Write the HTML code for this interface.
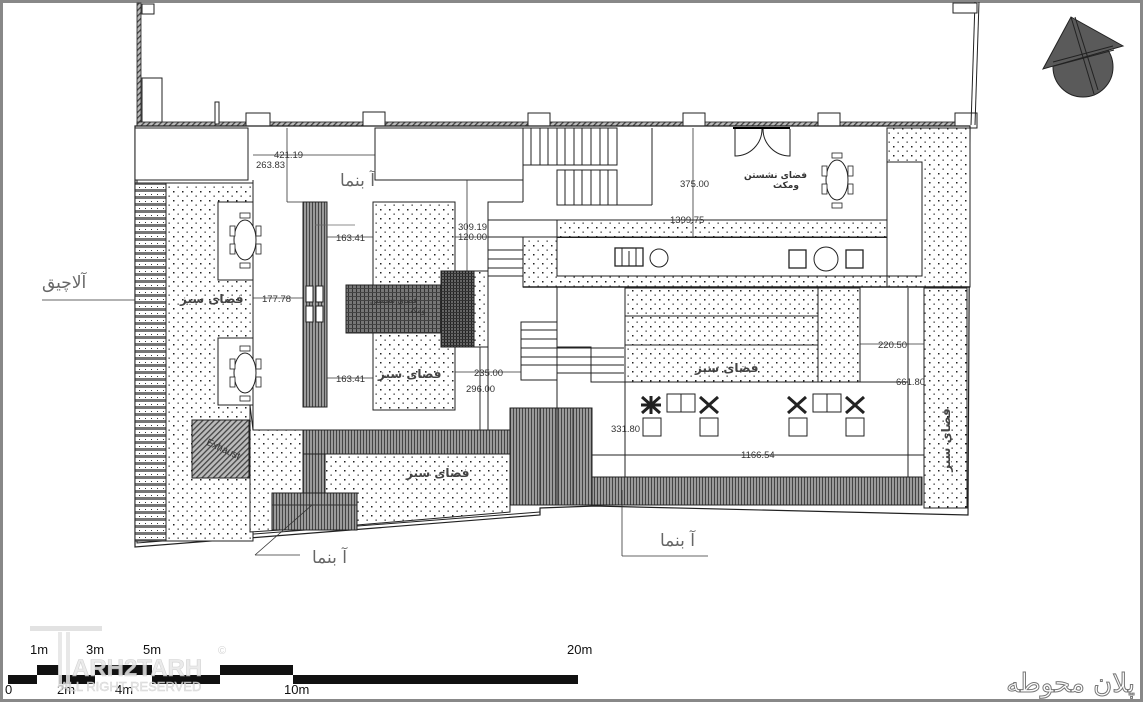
<!DOCTYPE html>
<html><head><meta charset="utf-8"><style>
html,body{margin:0;padding:0;background:#fff;}
svg{display:block;font-family:"Liberation Sans","DejaVu Sans",sans-serif;}
</style></head><body>
<svg width="1144" height="720" viewBox="0 0 1144 720" xmlns="http://www.w3.org/2000/svg">
<defs>
<pattern id="dots" width="9" height="9" patternUnits="userSpaceOnUse"><rect width="9" height="9" fill="#fff"/><rect x="2" y="2" width="1.5" height="1.5" fill="#222"/><rect x="6.5" y="6.5" width="1.3" height="1.3" fill="#333"/></pattern>
<pattern id="vh" width="3" height="3" patternUnits="userSpaceOnUse"><rect width="3" height="3" fill="#9a9a9a"/><rect width="1" height="3" fill="#444"/></pattern>
<pattern id="grid" width="4" height="4" patternUnits="userSpaceOnUse"><rect width="4" height="4" fill="#777"/><rect width="1" height="4" fill="#333"/><rect width="4" height="1" fill="#444"/></pattern>
<pattern id="grid2" width="3" height="3" patternUnits="userSpaceOnUse"><rect width="3" height="3" fill="#666"/><rect width="1" height="3" fill="#222"/><rect width="3" height="1" fill="#333"/></pattern>
<pattern id="hs" width="6" height="7" patternUnits="userSpaceOnUse"><rect width="6" height="7" fill="#fff"/><rect width="6" height="3" fill="#777"/><rect x="1" y="5" width="1" height="1" fill="#333"/></pattern>
<pattern id="diag" width="4" height="4" patternUnits="userSpaceOnUse" patternTransform="rotate(45)"><rect width="4" height="4" fill="#bbb"/><rect width="1.3" height="4" fill="#444"/></pattern>
</defs>

<rect x="1.5" y="1.5" width="1140" height="699" fill="#fff" stroke="#888" stroke-width="3"/>

<rect x="137" y="3" width="4" height="123" fill="url(#diag)" stroke="#222" stroke-width="0.8"/>
<rect x="142" y="4" width="12" height="10" fill="#fff" stroke="#222"/>
<rect x="142" y="78" width="20" height="48" fill="#fff" stroke="#222"/>
<rect x="137" y="122" width="830" height="5" fill="url(#diag)" stroke="#222" stroke-width="0.8"/>
<rect x="215" y="102" width="4" height="22" fill="#fff" stroke="#222"/>
<rect x="246" y="113" width="24" height="15" fill="#fff" stroke="#222"/>
<rect x="363" y="112" width="22" height="16" fill="#fff" stroke="#222"/>
<rect x="528" y="113" width="22" height="15" fill="#fff" stroke="#222"/>
<rect x="683" y="113" width="22" height="15" fill="#fff" stroke="#222"/>
<rect x="818" y="113" width="22" height="15" fill="#fff" stroke="#222"/>
<rect x="955" y="113" width="22" height="15" fill="#fff" stroke="#222"/>
<line x1="979" y1="2" x2="975" y2="125" stroke="#222"/>
<line x1="975" y1="2" x2="971" y2="125" stroke="#222"/>
<rect x="953" y="3" width="24" height="10" fill="#fff" stroke="#222"/>

<polygon points="135,126 970,126 968,515 595,506 540,508 540,515 135,547" fill="#fff" stroke="#222" stroke-width="1.2"/>
<polyline points="137,128 137,543 540,512" fill="none" stroke="#222" stroke-width="1"/>

<rect x="135" y="128" width="113" height="52" fill="#fff" stroke="#222"/>
<rect x="375" y="128" width="148" height="52" fill="#fff" stroke="#222"/>

<rect x="165" y="183" width="88" height="358" fill="url(#dots)" stroke="#222"/>
<rect x="135" y="183" width="31" height="358" fill="url(#hs)" stroke="#222"/>
<rect x="218" y="202" width="35" height="78" fill="#fff" stroke="#222"/>
<rect x="218" y="338" width="35" height="67" fill="#fff" stroke="#222"/>
<rect x="192" y="420" width="57" height="58" fill="url(#diag)" stroke="#222"/>
<text x="222" y="452" font-size="10" fill="#333" transform="rotate(25 222 452)" text-anchor="middle">Exhaust</text>

<polygon points="250,405 253,430 510,430 510,512 357,525 250,532" fill="url(#dots)" stroke="#222"/>
<rect x="303" y="430" width="207" height="24" fill="url(#vh)" stroke="#222"/>
<rect x="303" y="454" width="22" height="40" fill="url(#vh)" stroke="#222"/>
<rect x="272" y="493" width="85" height="37" fill="url(#vh)" stroke="#222"/>
<line x1="272" y1="505" x2="357" y2="505" stroke="#333"/>
<rect x="510" y="408" width="82" height="97" fill="url(#vh)" stroke="#222"/>
<line x1="540" y1="408" x2="540" y2="505" stroke="#333"/><line x1="557" y1="408" x2="557" y2="505" stroke="#333"/><line x1="573" y1="408" x2="573" y2="505" stroke="#333"/>
<rect x="592" y="477" width="330" height="28" fill="url(#vh)" stroke="#222"/>
<line x1="592" y1="458" x2="592" y2="477" stroke="#222"/>
<line x1="592" y1="455" x2="924" y2="455" stroke="#222"/>

<rect x="303" y="202" width="24" height="205" fill="url(#vh)" stroke="#222"/>
<rect x="306" y="286" width="7" height="16" fill="#fff" stroke="#222"/><rect x="316" y="286" width="7" height="16" fill="#fff" stroke="#222"/>
<rect x="306" y="306" width="7" height="16" fill="#fff" stroke="#222"/><rect x="316" y="306" width="7" height="16" fill="#fff" stroke="#222"/>
<rect x="373" y="202" width="82" height="208" fill="url(#dots)" stroke="#222"/>
<rect x="346" y="285" width="96" height="48" fill="url(#grid)" stroke="#222"/>
<rect x="441" y="271" width="33" height="76" fill="url(#grid2)" stroke="#222"/>
<rect x="474" y="271" width="14" height="76" fill="url(#dots)" stroke="#222"/>
<polyline points="253,180 253,430" fill="none" stroke="#222"/>
<polyline points="488,285 488,430" fill="none" stroke="#222"/>
<line x1="480" y1="347" x2="480" y2="430" stroke="#222"/>

<rect x="523" y="128" width="94" height="37" fill="#fff" stroke="#222"/>
<g stroke="#222"><line x1="531" y1="128" x2="531" y2="165"/><line x1="540" y1="128" x2="540" y2="165"/><line x1="548" y1="128" x2="548" y2="165"/><line x1="557" y1="128" x2="557" y2="165"/><line x1="565" y1="128" x2="565" y2="165"/><line x1="574" y1="128" x2="574" y2="165"/><line x1="582" y1="128" x2="582" y2="165"/><line x1="591" y1="128" x2="591" y2="165"/><line x1="600" y1="128" x2="600" y2="165"/><line x1="608" y1="128" x2="608" y2="165"/></g>
<rect x="557" y="170" width="60" height="35" fill="#fff" stroke="#222"/>
<g stroke="#222"><line x1="565" y1="170" x2="565" y2="205"/><line x1="574" y1="170" x2="574" y2="205"/><line x1="582" y1="170" x2="582" y2="205"/><line x1="591" y1="170" x2="591" y2="205"/><line x1="600" y1="170" x2="600" y2="205"/><line x1="608" y1="170" x2="608" y2="205"/></g>
<line x1="523" y1="128" x2="523" y2="202" stroke="#222"/>
<line x1="652" y1="128" x2="652" y2="205" stroke="#222"/>
<line x1="617" y1="205" x2="652" y2="205" stroke="#222"/>
<polyline points="375,180 523,180" stroke="#222" fill="none"/>
<polyline points="523,202 488,202 488,285" stroke="#222" fill="none"/>
<line x1="488" y1="220" x2="887" y2="220" stroke="#222"/>
<line x1="488" y1="237" x2="557" y2="237" stroke="#222"/>
<g stroke="#222"><line x1="488" y1="250" x2="523" y2="250"/><line x1="488" y1="259" x2="523" y2="259"/><line x1="488" y1="268" x2="523" y2="268"/><line x1="488" y1="276" x2="523" y2="276"/></g>

<rect x="557" y="220" width="330" height="17" fill="url(#dots)" stroke="#222"/>
<rect x="523" y="237" width="447" height="50" fill="url(#dots)" stroke="#222"/>
<rect x="887" y="128" width="83" height="159" fill="url(#dots)" stroke="#222"/>
<rect x="557" y="237" width="365" height="39" fill="#fff" stroke="#222"/>
<rect x="887" y="162" width="35" height="114" fill="#fff" stroke="#222"/>
<rect x="557" y="237" width="330" height="1" fill="#222"/>
<line x1="887" y1="162" x2="887" y2="237" stroke="#222"/>
<path d="M735 129 V156 A27 27 0 0 0 762 129 M790 129 V156 A27 27 0 0 1 763 129" fill="none" stroke="#222"/>
<line x1="733" y1="128" x2="790" y2="128" stroke="#000" stroke-width="2"/>
<rect x="615" y="248" width="28" height="18" fill="#fff" stroke="#222" stroke-width="1.3"/><line x1="622" y1="248" x2="622" y2="266" stroke="#222"/><line x1="636" y1="248" x2="636" y2="266" stroke="#222"/><line x1="629" y1="251" x2="629" y2="266" stroke="#222"/>
<circle cx="659" cy="258" r="9" fill="#fff" stroke="#222"/>
<rect x="789" y="250" width="17" height="18" fill="#fff" stroke="#222" stroke-width="1.3"/>
<circle cx="826" cy="259" r="12" fill="#fff" stroke="#222"/>
<rect x="846" y="250" width="17" height="18" fill="#fff" stroke="#222" stroke-width="1.3"/>

<line x1="523" y1="287" x2="970" y2="287" stroke="#222" stroke-width="1.5"/>
<rect x="625" y="288" width="193" height="94" fill="url(#dots)" stroke="#222"/>
<line x1="625" y1="316" x2="818" y2="316" stroke="#222"/><line x1="625" y1="345" x2="818" y2="345" stroke="#222"/>
<rect x="818" y="288" width="42" height="94" fill="url(#dots)" stroke="#222"/>
<rect x="924" y="288" width="43" height="220" fill="url(#dots)" stroke="#222"/>
<line x1="908" y1="288" x2="908" y2="477" stroke="#222"/>
<line x1="557" y1="287" x2="557" y2="410" stroke="#222"/>
<rect x="521" y="322" width="36" height="58" fill="#fff" stroke="#222"/>
<g stroke="#222"><line x1="521" y1="330" x2="557" y2="330"/><line x1="521" y1="339" x2="557" y2="339"/><line x1="521" y1="348" x2="624" y2="348"/><line x1="521" y1="357" x2="624" y2="357"/><line x1="521" y1="365" x2="624" y2="365"/><line x1="557" y1="373" x2="624" y2="373"/></g>
<polyline points="557,347 591,347 591,382 625,382" fill="none" stroke="#222"/>
<line x1="625" y1="382" x2="625" y2="477" stroke="#222"/>
<line x1="860" y1="382" x2="908" y2="382" stroke="#222"/>

<g stroke="#222" fill="#fff">
<rect x="667" y="394" width="28" height="18"/><line x1="681" y1="394" x2="681" y2="412"/>
<rect x="813" y="394" width="28" height="18"/><line x1="827" y1="394" x2="827" y2="412"/>
<rect x="643" y="418" width="18" height="18"/><rect x="700" y="418" width="18" height="18"/>
<rect x="789" y="418" width="18" height="18"/><rect x="846" y="418" width="18" height="18"/>
</g>
<g fill="#333" stroke="#222">
<path d="M642 397 L660 413 M660 397 L642 413 M651 396 V414 M641 405 H661" stroke-width="3"/>
<path d="M700 397 L718 413 M718 397 L700 413" stroke-width="3"/>
<path d="M788 397 L806 413 M806 397 L788 413" stroke-width="3"/>
<path d="M846 397 L864 413 M864 397 L846 413" stroke-width="3"/>
</g>

<g fill="#fff" stroke="#222">
<ellipse cx="245" cy="240" rx="11" ry="20"/><ellipse cx="245" cy="373" rx="11" ry="20"/><ellipse cx="837" cy="180" rx="11" ry="20"/>
</g>
<g fill="#fff" stroke="#222" stroke-width="0.8">
<rect x="230" y="226" width="5" height="10"/><rect x="230" y="244" width="5" height="10"/><rect x="256" y="226" width="5" height="10"/><rect x="256" y="244" width="5" height="10"/>
<rect x="240" y="213" width="10" height="5"/><rect x="240" y="263" width="10" height="5"/>
<rect x="230" y="359" width="5" height="10"/><rect x="230" y="377" width="5" height="10"/><rect x="256" y="359" width="5" height="10"/><rect x="256" y="377" width="5" height="10"/>
<rect x="240" y="346" width="10" height="5"/><rect x="240" y="396" width="10" height="5"/>
<rect x="822" y="166" width="5" height="10"/><rect x="822" y="184" width="5" height="10"/><rect x="848" y="166" width="5" height="10"/><rect x="848" y="184" width="5" height="10"/>
<rect x="832" y="153" width="10" height="5"/><rect x="832" y="203" width="10" height="5"/>
</g>

<g stroke="#333" stroke-width="0.8" fill="none">
<line x1="253" y1="155" x2="375" y2="155"/><line x1="287" y1="128" x2="287" y2="202"/><line x1="287" y1="202" x2="303" y2="202"/>
<line x1="327" y1="237" x2="373" y2="237"/><line x1="327" y1="378" x2="373" y2="378"/><line x1="253" y1="298" x2="303" y2="298"/>
<line x1="455" y1="237" x2="488" y2="237"/><line x1="467" y1="180" x2="467" y2="271"/>
<line x1="455" y1="372" x2="521" y2="372"/><line x1="480" y1="347" x2="480" y2="430"/>
<line x1="693" y1="128" x2="693" y2="237"/>
<line x1="860" y1="344" x2="924" y2="344"/>
<line x1="622" y1="490" x2="622" y2="556"/><line x1="622" y1="556" x2="708" y2="556"/>
<line x1="42" y1="300" x2="135" y2="300"/>
<line x1="315" y1="225" x2="355" y2="225" stroke="#666"/>
<line x1="255" y1="555" x2="312" y2="505"/><line x1="255" y1="555" x2="300" y2="555"/>
</g>
<g font-size="9.5" fill="#333">
<text x="274" y="158">421.19</text><text x="256" y="168">263.83</text>
<text x="336" y="241">163.41</text><text x="336" y="382">163.41</text><text x="262" y="302">177.78</text>
<text x="458" y="230">309.19</text><text x="458" y="240">120.00</text>
<text x="474" y="376">235.00</text><text x="466" y="392">296.00</text>
<text x="680" y="187">375.00</text><text x="670" y="223">1399.75</text>
<text x="878" y="348">220.50</text><text x="896" y="385">661.80</text>
<text x="611" y="432">331.80</text><text x="741" y="458">1166.54</text>
</g>
<g font-family="DejaVu Sans,sans-serif" fill="#333">
<text x="340" y="186" font-size="17" fill="#666">آ بنما</text>
<text x="660" y="546" font-size="17" fill="#666">آ بنما</text>
<text x="312" y="563" font-size="17" fill="#666">آ بنما</text>
<text x="42" y="288" font-size="17" fill="#666">آلاچیق</text>
<text x="180" y="303" font-size="12" font-weight="bold" fill="#444">فضای سبز</text>
<text x="378" y="378" font-size="12" font-weight="bold" fill="#444">فضای سبز</text>
<text x="406" y="477" font-size="12" font-weight="bold" fill="#444">فضای سبز</text>
<text x="695" y="372" font-size="12" font-weight="bold" fill="#444">فضای سبز</text>
<text x="950" y="440" font-size="12" font-weight="bold" fill="#444" transform="rotate(-90 950 440)" text-anchor="middle">فضای سبز</text>
<text x="744" y="178" font-size="9" font-weight="bold">فضای نشستن</text><text x="773" y="188" font-size="9" font-weight="bold">ومکث</text>
<text x="370" y="303" font-size="8">فضای نشستن</text><text x="405" y="313" font-size="8">ومکث</text>
</g>

<circle cx="1083" cy="67" r="30" fill="#5a5a5a" stroke="#222"/>
<polygon points="1071,17 1123,46 1043,69" fill="#5a5a5a" stroke="#222"/>
<g stroke="#222" stroke-width="1"><line x1="1071" y1="17" x2="1094" y2="94"/><line x1="1075" y1="17" x2="1098" y2="90"/><line x1="1053" y1="62" x2="1113" y2="46"/><line x1="1054" y1="66" x2="1114" y2="50"/></g>

<g fill="#111">
<rect x="8" y="675" width="29" height="9"/><rect x="37" y="665" width="22" height="10"/>
<rect x="59" y="675" width="36" height="9"/><rect x="95" y="665" width="57" height="10"/>
<rect x="152" y="675" width="68" height="9"/><rect x="220" y="665" width="73" height="10"/>
<rect x="293" y="675" width="285" height="9"/>
</g>
<g font-size="13" fill="#111" font-family="'Liberation Sans Narrow','Liberation Sans',sans-serif">
<text x="5" y="694">0</text><text x="30" y="654">1m</text><text x="86" y="654">3m</text><text x="143" y="654">5m</text><text x="567" y="654">20m</text>
<text x="57" y="694">2m</text><text x="115" y="694">4m</text><text x="284" y="694">10m</text>
</g>
<g opacity="0.85">
<rect x="30" y="626" width="72" height="5" fill="#ddd"/>
<rect x="58" y="632" width="4" height="55" fill="#e4e4e4"/><rect x="66" y="632" width="4" height="55" fill="#e4e4e4"/>
<text x="72" y="676" font-size="24" font-weight="bold" fill="#e8e8e8" stroke="#ccc" stroke-width="0.6">ARH2TARH</text>
<text x="60" y="691" font-size="13" fill="#e8e8e8" stroke="#ccc" stroke-width="0.5">ALL RIGHT RESERVED</text>
<text x="218" y="654" font-size="11" fill="#ccc">©</text>
</g>
<text x="1135" y="692" font-size="26" text-anchor="end" fill="#fff" stroke="#777" stroke-width="1" font-family="DejaVu Sans,sans-serif">پلان محوطه</text>
</svg>
</body></html>
